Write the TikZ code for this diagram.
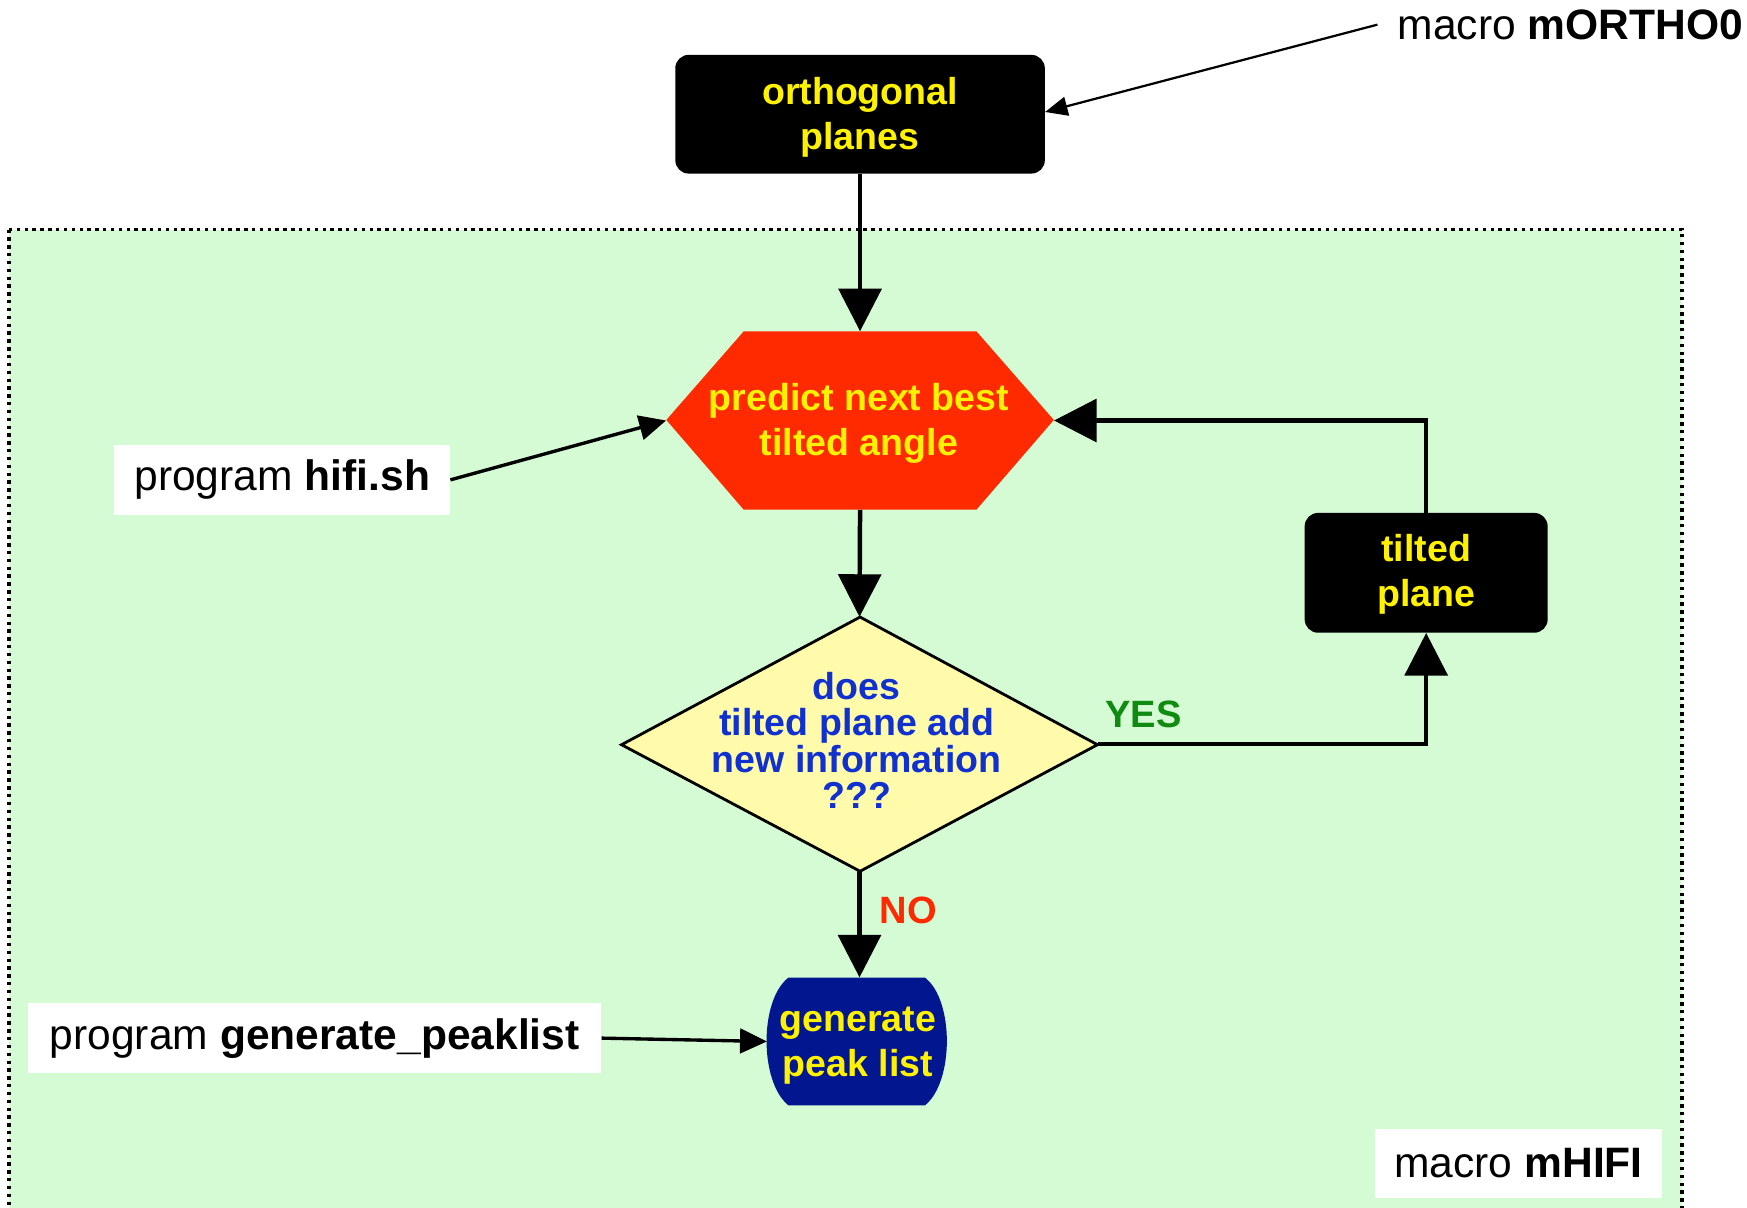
\documentclass[tikz,border=0pt]{standalone}
\usepackage{fontspec}
\setmainfont{Liberation Sans}
\usetikzlibrary{arrows.meta,calc}
\definecolor{bggreen}{HTML}{D4FBD4}
\definecolor{hexred}{HTML}{FF2A00}
\definecolor{diafill}{HTML}{FFFBAA}
\definecolor{txtblue}{HTML}{1030D0}
\definecolor{genblue}{HTML}{02178F}
\definecolor{yesgreen}{HTML}{108A10}
\definecolor{noredc}{HTML}{FF2A00}
\begin{document}
\begin{tikzpicture}[x=1pt,y=-1pt,
  bigtip/.style={-{Triangle[length=38pt,width=38pt]}},
  midtip/.style={-{Triangle[length=24pt,width=22pt]}},
  smalltip/.style={-{Triangle[length=20pt,width=17pt]}},
  conn/.style={line width=4pt,bigtip},
  thinconn/.style={line width=3pt,midtip},
  boxtxt/.style={text=yellow,font=\fontsize{33.5}{40}\selectfont\bfseries,align=center},
  blackbox/.style={boxtxt,fill=black,rounded corners=12pt,inner sep=0pt},
  anchorbox/.style={inner sep=0pt,draw=none},
  labelbox/.style={fill=white,inner sep=0pt,font=\fontsize{38}{40}\selectfont},
]
\clip (0,0) rectangle (1560,1078);
\fill[white] (0,0) rectangle (1560,1078);
% region
\draw[fill=bggreen,line width=3pt,dash pattern=on 3pt off 4pt] (8,205) rectangle (1502,1110);

% nodes
\node[blackbox,minimum width=330pt,minimum height=106pt] (ortho) at (768,102) {};
\node[boxtxt,inner sep=0pt] (orthotxt) at (768,105) {orthogonal\\planes};

\fill[hexred] (595,375) -- (664,296) -- (872,296) -- (941,375) -- (872,455) -- (664,455) -- cycle;
\node[anchorbox,minimum width=346pt,minimum height=159pt] (hex) at (768,375.5) {};
\node[boxtxt,inner sep=0pt] (hextxt) at (767,378) {predict next best\\tilted angle};

\draw[fill=diafill,line width=2.5pt] (555,665) -- (768,551) -- (980,665) -- (768,778) -- cycle;
\node[anchorbox,minimum width=425pt,minimum height=227pt] (dia) at (767.5,664.5) {};
\node[text=txtblue,font=\fontsize{33.5}{32.5}\selectfont\bfseries,align=center,inner sep=0pt] (diatxt) at (765,661) {does\\tilted plane add\\new information\\???};

\node[blackbox,minimum width=217pt,minimum height=107pt] (tilt) at (1273.5,511.5) {};
\node[boxtxt,inner sep=0pt] (tilttxt) at (1273.5,513) {tilted\\plane};

\fill[genblue] (704,873) -- (826,873) .. controls (852,893) and (852,966) .. (826,987) -- (704,987) .. controls (678,966) and (678,893) .. (704,873) -- cycle;
\node[anchorbox,minimum width=160pt,minimum height=114pt] (gen) at (765,930) {};
\node[boxtxt,inner sep=0pt] (gentxt) at (766,934) {generate\\peak list};

\node[labelbox,minimum width=300pt,minimum height=63pt] (hifi) at (252,428.5) {program \textbf{hifi.sh}};
\node[labelbox,minimum width=512pt,minimum height=62pt] (peak) at (281,927) {program \textbf{generate\_peaklist}};
\node[labelbox,minimum width=256pt,minimum height=62pt] (mhifi) at (1356,1039) {macro \textbf{mHIFI}};
\node[labelbox,anchor=west,inner xsep=18pt] (morth) at (1230,22) {macro \textbf{mORTHO0}};

\node[text=yesgreen,font=\fontsize{34}{40}\selectfont\bfseries,inner sep=0pt] (yes) at (1021,638) {YES};
\node[text=noredc,font=\fontsize{34}{40}\selectfont\bfseries,inner sep=0pt] (no) at (811,813) {NO};

% connectors
\draw[conn] (ortho.south) -- (hex.north);
\draw[conn] (hex.south) -- (dia.north);
\draw[conn] (dia.south) -- (gen.north -| dia.south);
\draw[conn] (dia.east) -| (tilt.south);
\draw[conn] (tilt.north) |- (hex.east);
\draw[thinconn] (hifi.east) -- (hex.west);
\draw[thinconn] (peak.east) -- (gen.west);
\draw[line width=2pt,smalltip] (morth.west) -- (ortho.east |- 0,100);
\end{tikzpicture}
\end{document}
